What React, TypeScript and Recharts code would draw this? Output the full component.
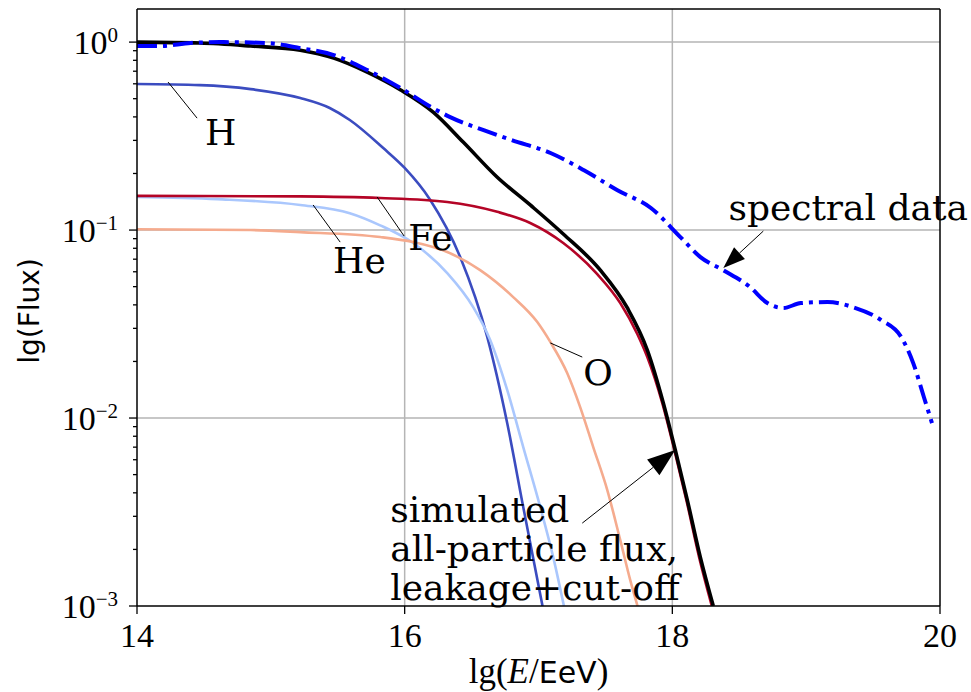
import React from "react";
import { LineChart, Line, XAxis, YAxis, CartesianGrid, ReferenceLine, ReferenceDot } from "recharts";

// lg(E) vs flux
const hydrogen = [
  [14, 0.598], [14.47, 0.59], [14.85, 0.562], [15.22, 0.504], [15.44, 0.446], [15.59, 0.385],
  [15.84, 0.273], [16.0, 0.214], [16.19, 0.145], [16.415, 0.0718], [16.617, 0.027], [16.766, 0.0094],
  [16.886, 0.00336], [17.03, 0.001],
];
const helium = [
  [14, 0.15], [14.6, 0.146], [15.22, 0.136], [15.59, 0.123], [15.817, 0.106], [16.064, 0.0853],
  [16.318, 0.059], [16.512, 0.0389], [16.639, 0.026], [16.766, 0.0141], [16.886, 0.00701],
  [17.013, 0.00336], [17.11, 0.00182], [17.19, 0.001],
];
const oxygen = [
  [14, 0.101], [14.85, 0.1], [15.22, 0.0975], [15.817, 0.0918], [16.064, 0.0863], [16.318, 0.0764],
  [16.564, 0.0612], [16.811, 0.044], [16.991, 0.0324], [17.088, 0.0254], [17.215, 0.0173],
  [17.312, 0.0114], [17.409, 0.00701], [17.514, 0.00414], [17.611, 0.00224], [17.686, 0.00137],
  [17.74, 0.001],
];
const iron = [
  [14, 0.152], [15.22, 0.151], [15.817, 0.148], [16.318, 0.141], [16.692, 0.125], [16.938, 0.109],
  [17.185, 0.0853], [17.439, 0.0583], [17.611, 0.0409], [17.738, 0.028], [17.813, 0.0211],
  [17.925, 0.012], [18.015, 0.00676], [18.105, 0.00366], [18.2, 0.00182], [18.295, 0.001],
];
const allParticle = [
  [14, 1.0], [14.47, 0.989], [14.85, 0.953], [15.22, 0.906], [15.47, 0.822], [15.72, 0.692],
  [15.97, 0.556], [16.213, 0.424], [16.437, 0.294], [16.692, 0.191], [16.938, 0.136], [17.185, 0.0953],
  [17.462, 0.0612], [17.664, 0.0385], [17.813, 0.023], [17.933, 0.012],
  [18.022, 0.00676], [18.112, 0.00366], [18.209, 0.00182], [18.306, 0.001],
];
const spectral = [
  [14, 0.953], [14.17, 0.953], [14.4, 0.989], [14.62, 1.0], [14.97, 0.989], [15.22, 0.929],
  [15.47, 0.853], [15.72, 0.71], [15.97, 0.569], [16.21, 0.446], [16.34, 0.399], [16.59, 0.34],
  [16.8, 0.301], [17.09, 0.257], [17.34, 0.208], [17.59, 0.163], [17.84, 0.131], [18.06, 0.0918],
  [18.21, 0.0718], [18.38, 0.0612], [18.58, 0.0498], [18.71, 0.0409], [18.83, 0.0385], [18.96, 0.0409],
  [19.16, 0.0414], [19.35, 0.0389], [19.56, 0.0332], [19.71, 0.027], [19.8, 0.0196], [19.88, 0.0129],
  [19.94, 0.0094],
];

const xTicks = [14, 16, 18, 20];
const yMajor = [0.001, 0.01, 0.1, 1];
const yMinor = [
  0.002, 0.003, 0.004, 0.005, 0.006, 0.007, 0.008, 0.009,
  0.02, 0.03, 0.04, 0.05, 0.06, 0.07, 0.08, 0.09,
  0.2, 0.3, 0.4, 0.5, 0.6, 0.7, 0.8, 0.9,
];

const pts = (a: number[][]) => a.map(([x, y]) => ({ x, y }));

const SERIF = "Liberation Serif";
const NOTE = "DejaVu Serif";

function YTick(props: any) {
  const { x, y, payload } = props;
  const v = payload.value;
  const e = Math.round(Math.log10(v));
  const major = Math.abs(Math.log10(v) - e) < 1e-6;
  return (
    <g>
      <line x1={x} x2={x - (major ? 8 : 4)} y1={y} y2={y} stroke="#000" strokeWidth={1.3} />
      {major && (
        <text x={x - 19} y={y + 12} textAnchor="end" fontFamily={SERIF} fontSize={34} fill="#000">
          10
          <tspan dy={-12} fontSize={21}>{e === 0 ? "0" : `\u2212${-e}`}</tspan>
        </text>
      )}
    </g>
  );
}

function XTick(props: any) {
  const { x, y, payload } = props;
  return (
    <g>
      <line x1={x} x2={x} y1={y} y2={y + 8} stroke="#000" strokeWidth={1.3} />
      <text x={x} y={y + 41} textAnchor="middle" fontFamily={SERIF} fontSize={34} fill="#000">
        {payload.value}
      </text>
    </g>
  );
}

const note = (lines: string[], size = 36) => (props: any) => {
  const vb = props.viewBox || {};
  const x = (vb.x ?? vb.cx ?? 0) + (vb.width || 0) / 2;
  const y = (vb.y ?? vb.cy ?? 0) + (vb.height || 0) / 2;
  return (
    <text x={x} y={y} fontFamily={NOTE} fontSize={size} fill="#000">
      {lines.map((l, i) => (
        <tspan key={i} x={x} dy={i ? 39 : 0}>{l}</tspan>
      ))}
    </text>
  );
};

const arrow = (head: number, half: number) => (p: any) => {
  const { x1, y1, x2, y2 } = p;
  const dx = x2 - x1, dy = y2 - y1;
  const len = Math.hypot(dx, dy) || 1;
  const ux = dx / len, uy = dy / len;
  const bx = x2 - ux * head, by = y2 - uy * head;
  return (
    <g>
      <line x1={x1} y1={y1} x2={bx} y2={by} stroke="#000" strokeWidth={1} />
      <polygon
        points={`${x2},${y2} ${bx - uy * half},${by + ux * half} ${bx + uy * half},${by - ux * half}`}
        fill="#000"
      />
    </g>
  );
};

const xLabel = (props: any) => {
  const vb = props.viewBox;
  const cx = vb.x + vb.width / 2;
  return (
    <text x={cx} y={vb.y + 77} textAnchor="middle" fontFamily={SERIF} fontSize={35} fill="#000">
      lg(<tspan fontStyle="italic">E</tspan>/<tspan fontFamily="DejaVu Sans" fontSize={30}>EeV</tspan>)
    </text>
  );
};

const yLabel = () => (
  <text transform="translate(39,311) rotate(-90)" textAnchor="middle" fontFamily="DejaVu Sans" fontSize={28} fill="#000">
    lg(Flux)
  </text>
);

export default function App() {
  return (
    <div style={{ position: "absolute", left: 0, top: 0 }}>
      <LineChart width={971} height={692} margin={{ top: 9, right: 31, left: 0, bottom: 36 }}>
        <CartesianGrid
          horizontalValues={[0.01, 0.1, 1]}
          verticalValues={[16, 18]}
          stroke="#b5b5b5"
          strokeWidth={1.5}
        />
        <XAxis
          type="number"
          dataKey="x"
          domain={[14, 20]}
          ticks={xTicks}
          allowDataOverflow
          height={50}
          tickSize={0}
          tickMargin={0}
          tickLine={false}
          tick={<XTick />}
          interval={0}
          axisLine={{ stroke: "#000", strokeWidth: 1.5 }}
          label={{ content: xLabel }}
        />
        <YAxis
          type="number"
          scale="log"
          domain={[0.001, 1.5]}
          ticks={[...yMajor, ...yMinor]}
          allowDataOverflow
          width={137}
          tickSize={0}
          tickMargin={0}
          tickLine={false}
          tick={<YTick />}
          interval={0}
          axisLine={{ stroke: "#000", strokeWidth: 1.5 }}
          label={{ content: yLabel }}
        />
        <ReferenceLine y={1.5} stroke="#000" strokeWidth={1.5} />
        <ReferenceLine x={20} stroke="#000" strokeWidth={1.5} />

        <Line data={pts(hydrogen)} dataKey="y" type="monotone" stroke="#3b4cc0" strokeWidth={2.6} dot={false} isAnimationActive={false} />
        <Line data={pts(helium)} dataKey="y" type="monotone" stroke="#aac7fd" strokeWidth={2.6} dot={false} isAnimationActive={false} />
        <Line data={pts(oxygen)} dataKey="y" type="monotone" stroke="#f5ab8e" strokeWidth={2.6} dot={false} isAnimationActive={false} />
        <Line data={pts(iron)} dataKey="y" type="monotone" stroke="#b40426" strokeWidth={2.6} dot={false} isAnimationActive={false} />
        <Line data={pts(allParticle)} dataKey="y" type="monotone" stroke="#000" strokeWidth={3.6} dot={false} isAnimationActive={false} />
        <Line data={pts(spectral)} dataKey="y" type="monotone" stroke="#0000ff" strokeWidth={4} strokeDasharray="20 6 4 6" dot={false} isAnimationActive={false} />

        <ReferenceLine segment={[{ x: 14.232, y: 0.613 }, { x: 14.449, y: 0.394 }]} stroke="#000" strokeWidth={1} />
        <ReferenceLine segment={[{ x: 15.316, y: 0.136 }, { x: 15.518, y: 0.0863 }]} stroke="#000" strokeWidth={1} />
        <ReferenceLine segment={[{ x: 15.794, y: 0.15 }, { x: 15.996, y: 0.0929 }]} stroke="#000" strokeWidth={1} />
        <ReferenceLine segment={[{ x: 17.088, y: 0.0251 }, { x: 17.327, y: 0.0211 }]} stroke="#000" strokeWidth={1} />
        <ReferenceLine segment={[{ x: 18.68, y: 0.0988 }, { x: 18.381, y: 0.0628 }]} shape={arrow(22, 8)} />
        <ReferenceLine segment={[{ x: 17.327, y: 0.00276 }, { x: 18.022, y: 0.00676 }]} shape={arrow(28, 10)} />

        <ReferenceDot x={14.508} y={0.283} r={0} fill="none" stroke="none" label={{ content: note(["H"]) }} />
        <ReferenceDot x={15.465} y={0.059} r={0} fill="none" stroke="none" label={{ content: note(["He"]) }} />
        <ReferenceDot x={16.026} y={0.0783} r={0} fill="none" stroke="none" label={{ content: note(["Fe"]) }} />
        <ReferenceDot x={17.335} y={0.015} r={0} fill="none" stroke="none" label={{ content: note(["O"]) }} />
        <ReferenceDot x={18.419} y={0.113} r={0} fill="none" stroke="none" label={{ content: note(["spectral data"]) }} />
        <ReferenceDot
          x={15.892}
          y={0.0028}
          r={0}
          fill="none"
          stroke="none"
          label={{ content: note(["simulated", "all-particle flux,", "leakage+cut-off"]) }}
        />
      </LineChart>
    </div>
  );
}
